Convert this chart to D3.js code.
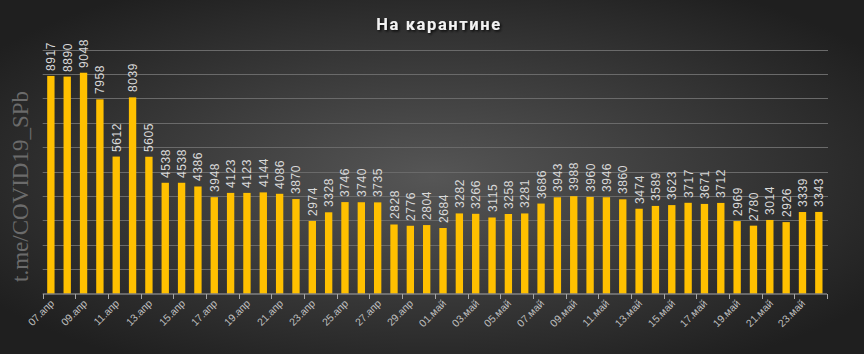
<!DOCTYPE html>
<html>
<head>
<meta charset="utf-8">
<script src="https://cdn.jsdelivr.net/npm/d3@7"></script>
<style>
  body { margin: 0; background: #2a2a2a; }
  svg { display: block; }
</style>
</head>
<body>
<script>
// data
let dates = [
  "07.апр", "08.апр", "09.апр", "10.апр", "11.апр", "12.апр", "13.апр", "14.апр",
  "15.апр", "16.апр", "17.апр", "18.апр", "19.апр", "20.апр", "21.апр", "22.апр",
  "23.апр", "24.апр", "25.апр", "26.апр", "27.апр", "28.апр", "29.апр", "30.апр",
  "01.май", "02.май", "03.май", "04.май", "05.май", "06.май", "07.май", "08.май",
  "09.май", "10.май", "11.май", "12.май", "13.май", "14.май", "15.май", "16.май",
  "17.май", "18.май", "19.май", "20.май", "21.май", "22.май", "23.май", "24.май"
];
let quarantine = [
  8917, 8890, 9048, 7958, 5612, 8039, 5605, 4538,
  4538, 4386, 3948, 4123, 4123, 4144, 4086, 3870,
  2974, 3328, 3746, 3740, 3735, 2828, 2776, 2804,
  2684, 3282, 3266, 3115, 3258, 3281, 3686, 3943,
  3988, 3960, 3946, 3860, 3474, 3589, 3623, 3717,
  3671, 3712, 2969, 2780, 3014, 2926, 3339, 3343
];
let gridValues = [1000, 2000, 3000, 4000, 5000, 6000, 7000, 8000, 9000, 10000];
let title = "На карантине";
let watermark = "t.me/COVID19_SPb";

let width = 864;
let height = 354;
let plotLeft = 42.7, plotRight = 827, plotTop = 49.5, plotBottom = 293.5;

let svg = d3.select("body").append("svg")
  .attr("width", width)
  .attr("height", height);

// background gradient
let defs = svg.append("defs");
let grad = defs.append("radialGradient")
  .attr("id", "bg")
  .attr("cx", "50%").attr("cy", "50%").attr("r", "62%");
grad.append("stop").attr("offset", "0%").attr("stop-color", "#565656");
grad.append("stop").attr("offset", "100%").attr("stop-color", "#1f1f1f");

let shadow = defs.append("filter").attr("id", "shadow")
  .attr("x", "-10%").attr("y", "-30%").attr("width", "120%").attr("height", "160%");
shadow.append("feDropShadow")
  .attr("dx", 1.5).attr("dy", 1.5).attr("stdDeviation", 1.2)
  .attr("flood-color", "#000").attr("flood-opacity", 0.8);

svg.append("rect")
  .attr("width", width).attr("height", height)
  .attr("fill", "url(#bg)");

let x = d3.scaleBand()
  .domain(dates)
  .range([plotLeft, plotRight])
  .paddingInner(0.55)
  .paddingOuter(0.275);

let y = d3.scaleLinear()
  .domain([0, 10000])
  .range([plotBottom, plotTop]);

// gridlines
svg.append("g")
  .selectAll("line.grid")
  .data(gridValues)
  .join("line")
  .classed("grid", true)
  .attr("x1", plotLeft)
  .attr("x2", plotRight + 1)
  .attr("y1", d => Math.round(y(d)) + 0.5)
  .attr("y2", d => Math.round(y(d)) + 0.5)
  .attr("stroke", "#6a6a6a")
  .attr("stroke-width", 1);

// bars
svg.append("g")
  .selectAll("rect.bar")
  .data(quarantine)
  .join("rect")
  .classed("bar", true)
  .attr("x", (d, i) => x(dates[i]))
  .attr("y", d => y(d))
  .attr("width", x.bandwidth())
  .attr("height", d => plotBottom - y(d))
  .attr("fill", "#ffc000");

// value labels, vertical
svg.append("g")
  .selectAll("text.value")
  .data(quarantine)
  .join("text")
  .classed("value", true)
  .attr("transform", (d, i) => {
    let px = Math.round(x(dates[i]) + x.bandwidth() / 2 + 4.5);
    let py = Math.round(y(d) - 5);
    return "translate(" + px + ", " + py + ") rotate(-90)";
  })
  .attr("font-family", "Liberation Sans, Arial, sans-serif")
  .attr("font-size", 12)
  .attr("letter-spacing", 0.6)
  .attr("fill", "#d9d9d9")
  .text(d => d);

// x axis
let step = x.step();
let axisY = plotBottom + 0.5;
svg.append("line")
  .attr("x1", plotLeft).attr("x2", plotRight)
  .attr("y1", axisY).attr("y2", axisY)
  .attr("stroke", "#a6a6a6");

// tick marks every second category boundary
let tickIdx = d3.range(0, dates.length + 1, 2);
svg.append("g")
  .selectAll("line.xtick")
  .data(tickIdx)
  .join("line")
  .classed("xtick", true)
  .attr("x1", d => Math.round(plotLeft + d * step) + 0.5)
  .attr("x2", d => Math.round(plotLeft + d * step) + 0.5)
  .attr("y1", axisY)
  .attr("y2", axisY + 5)
  .attr("stroke", "#a6a6a6");

// date labels at -45 degrees
let labelDates = dates.filter((d, i) => i % 2 === 0);
svg.append("g")
  .selectAll("text.date")
  .data(labelDates)
  .join("text")
  .classed("date", true)
  .attr("transform", d => {
    let px = Math.round(x(d) + x.bandwidth() / 2 + 4);
    let py = Math.round(plotBottom + 10);
    return "translate(" + px + ", " + py + ") rotate(-45)";
  })
  .attr("text-anchor", "end")
  .attr("font-family", "Liberation Sans, Arial, sans-serif")
  .attr("font-size", 10.5)
  .attr("fill", "#bfbfbf")
  .text(d => d);

// title
svg.append("text")
  .text(title)
  .attr("x", 439)
  .attr("y", 30)
  .attr("text-anchor", "middle")
  .attr("font-family", "Roboto, sans-serif")
  .attr("font-weight", "bold")
  .attr("font-size", 16.5)
  .attr("letter-spacing", 1.6)
  .attr("fill", "#f2f2f2")
  .attr("filter", "url(#shadow)");

// watermark
svg.append("text")
  .text(watermark)
  .attr("transform", "translate(28, 282) rotate(-90)")
  .attr("font-family", "Liberation Serif, serif")
  .attr("font-size", 23)
  .attr("fill", "#6b6b6b");
</script>
</body>
</html>
